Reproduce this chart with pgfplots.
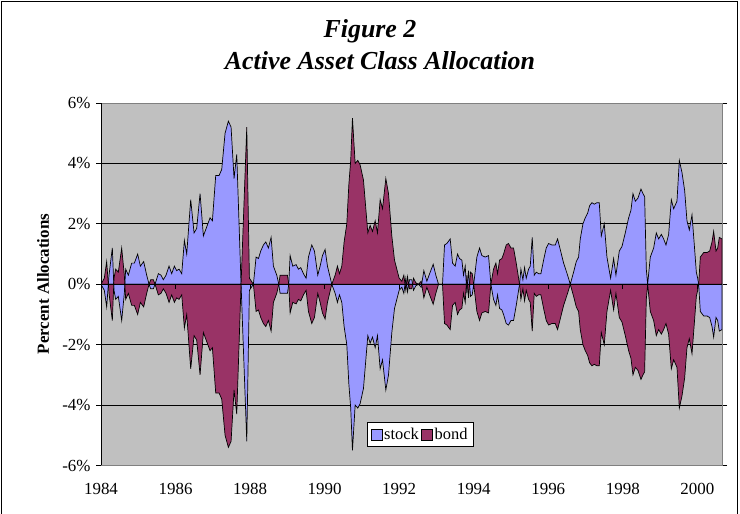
\documentclass[border=0pt]{standalone}
\usepackage{fontspec}
\setmainfont{Liberation Serif}
\usepackage{pgfplots}
\pgfplotsset{compat=1.18}
\usepackage{pgfplotstable}
\definecolor{stockc}{HTML}{9999FF}
\definecolor{bondc}{HTML}{993366}
\definecolor{bgc}{HTML}{C0C0C0}
\definecolor{framec}{HTML}{808080}

\pgfplotstableread{
x stock bond
1984.000 0.00 0.00
1984.089 -0.20 0.20
1984.152 -0.75 0.75
1984.215 0.30 -0.30
1984.304 1.20 -1.20
1984.349 -0.20 0.20
1984.394 -0.50 0.50
1984.465 -0.40 0.40
1984.555 -1.20 1.20
1984.626 -0.30 0.30
1984.662 0.50 -0.50
1984.734 0.30 -0.30
1984.823 0.70 -0.70
1984.895 0.70 -0.70
1984.984 1.00 -1.00
1985.056 0.60 -0.60
1985.145 0.75 -0.75
1985.226 0.30 -0.30
1985.289 0.00 0.00
1985.333 -0.15 0.15
1985.405 -0.15 0.15
1985.450 0.00 0.00
1985.539 0.35 -0.35
1985.611 0.30 -0.30
1985.673 0.15 -0.15
1985.745 0.30 -0.30
1985.826 0.60 -0.60
1985.897 0.35 -0.35
1985.969 0.60 -0.60
1986.031 0.45 -0.45
1986.094 0.50 -0.50
1986.166 0.35 -0.35
1986.237 1.45 -1.45
1986.300 1.00 -1.00
1986.407 2.80 -2.80
1986.497 1.70 -1.70
1986.568 1.85 -1.85
1986.658 3.00 -3.00
1986.747 1.60 -1.60
1986.837 1.90 -1.90
1986.926 2.20 -2.20
1986.989 2.10 -2.10
1987.078 3.60 -3.60
1987.168 3.60 -3.60
1987.239 3.80 -3.80
1987.329 5.00 -5.00
1987.418 5.40 -5.40
1987.490 5.20 -5.20
1987.570 3.50 -3.50
1987.642 4.30 -4.30
1987.758 0.00 0.00
1987.911 -5.20 5.20
1987.982 -0.20 0.20
1988.089 0.00 0.00
1988.161 0.90 -0.90
1988.224 0.85 -0.85
1988.286 1.10 -1.10
1988.358 1.30 -1.30
1988.421 1.40 -1.40
1988.492 1.20 -1.20
1988.564 1.55 -1.55
1988.626 0.60 -0.60
1988.716 0.30 -0.30
1988.770 0.00 0.00
1988.805 -0.30 0.30
1989.002 -0.30 0.30
1989.038 0.00 0.00
1989.074 0.95 -0.95
1989.145 0.60 -0.60
1989.235 0.65 -0.65
1989.298 0.50 -0.50
1989.360 0.55 -0.55
1989.432 0.35 -0.35
1989.503 0.20 -0.20
1989.566 0.90 -0.90
1989.655 1.30 -1.30
1989.727 1.10 -1.10
1989.816 0.30 -0.30
1989.879 0.60 -0.60
1989.942 0.95 -0.95
1990.013 1.15 -1.15
1990.076 0.60 -0.60
1990.192 0.00 0.00
1990.282 -0.30 0.30
1990.344 -0.60 0.60
1990.398 -0.35 0.35
1990.461 -0.60 0.60
1990.523 -1.40 1.40
1990.595 -2.00 2.00
1990.650 -3.30 3.30
1990.700 -4.10 4.10
1990.747 -5.50 5.50
1990.819 -4.00 4.00
1990.890 -4.10 4.10
1990.953 -3.95 3.95
1991.042 -3.45 3.45
1991.159 -1.70 1.70
1991.221 -1.95 1.95
1991.284 -1.75 1.75
1991.356 -2.10 2.10
1991.418 -1.70 1.70
1991.490 -2.80 2.80
1991.553 -2.50 2.50
1991.642 -3.50 3.50
1991.714 -3.00 3.00
1991.803 -1.60 1.60
1991.875 -0.80 0.80
1991.937 -0.50 0.50
1992.000 -0.20 0.20
1992.072 -0.10 0.10
1992.125 -0.30 0.30
1992.179 0.20 -0.20
1992.224 -0.25 0.25
1992.277 0.15 -0.15
1992.340 0.15 -0.15
1992.385 -0.20 0.20
1992.447 -0.05 0.05
1992.519 0.00 0.00
1992.591 -0.10 0.10
1992.662 0.45 -0.45
1992.743 0.10 -0.10
1992.832 0.40 -0.40
1992.913 0.66 -0.66
1992.984 0.30 -0.30
1993.056 0.00 0.00
1993.163 0.00 0.00
1993.217 1.30 -1.30
1993.280 1.35 -1.35
1993.369 1.50 -1.50
1993.432 0.70 -0.70
1993.503 0.60 -0.60
1993.566 1.00 -1.00
1993.620 0.85 -0.85
1993.682 0.80 -0.80
1993.727 0.30 -0.30
1993.772 0.60 -0.60
1993.817 -0.30 0.30
1993.861 0.45 -0.45
1993.915 -0.40 0.40
1993.960 -0.35 0.35
1994.000 0.00 0.00
1994.085 0.90 -0.90
1994.157 1.20 -1.20
1994.219 0.95 -0.95
1994.309 0.90 -0.90
1994.398 0.95 -0.95
1994.461 0.00 0.00
1994.532 -0.50 0.50
1994.595 -0.70 0.70
1994.640 -0.35 0.35
1994.694 -0.80 0.80
1994.756 -0.85 0.85
1994.801 -1.00 1.00
1994.872 -1.30 1.30
1994.935 -1.35 1.35
1994.998 -1.20 1.20
1995.069 -1.20 1.20
1995.141 -0.70 0.70
1995.230 0.00 0.00
1995.266 0.50 -0.50
1995.320 0.15 -0.15
1995.365 0.55 -0.55
1995.409 0.20 -0.20
1995.472 0.50 -0.50
1995.517 0.60 -0.60
1995.570 1.55 -1.55
1995.624 0.30 -0.30
1995.678 0.40 -0.40
1995.740 0.35 -0.35
1995.803 0.35 -0.35
1995.875 0.80 -0.80
1995.946 1.20 -1.20
1996.009 1.35 -1.35
1996.098 1.30 -1.30
1996.188 1.30 -1.30
1996.250 1.50 -1.50
1996.322 1.15 -1.15
1996.412 0.70 -0.70
1996.519 0.30 -0.30
1996.591 0.00 0.00
1996.680 0.40 -0.40
1996.752 0.75 -0.75
1996.814 0.90 -0.90
1996.859 1.50 -1.50
1996.931 2.00 -2.00
1996.993 2.20 -2.20
1997.056 2.35 -2.35
1997.110 2.60 -2.60
1997.172 2.70 -2.70
1997.235 2.65 -2.65
1997.307 2.70 -2.70
1997.369 2.70 -2.70
1997.423 1.60 -1.60
1997.503 2.00 -2.00
1997.575 0.90 -0.90
1997.673 0.20 -0.20
1997.754 0.85 -0.85
1997.816 0.30 -0.30
1997.906 1.10 -1.10
1997.978 1.25 -1.25
1998.067 1.70 -1.70
1998.157 2.20 -2.20
1998.219 2.45 -2.45
1998.273 3.00 -3.00
1998.336 2.75 -2.75
1998.407 2.85 -2.85
1998.488 3.15 -3.15
1998.541 3.00 -3.00
1998.586 2.90 -2.90
1998.631 0.50 -0.50
1998.667 0.00 0.00
1998.738 0.90 -0.90
1998.828 1.20 -1.20
1998.899 1.70 -1.70
1998.962 1.50 -1.50
1999.034 1.65 -1.65
1999.096 1.50 -1.50
1999.159 1.30 -1.30
1999.230 1.65 -1.65
1999.302 2.80 -2.80
1999.365 2.50 -2.50
1999.454 2.75 -2.75
1999.517 4.10 -4.10
1999.588 3.70 -3.70
1999.660 3.10 -3.10
1999.722 2.10 -2.10
1999.785 1.80 -1.80
1999.857 2.30 -2.30
1999.919 1.30 -1.30
1999.973 0.40 -0.40
2000.009 0.20 -0.20
2000.036 0.00 0.00
2000.080 -0.90 0.90
2000.170 -1.05 1.05
2000.260 -1.05 1.05
2000.331 -1.10 1.10
2000.394 -1.40 1.40
2000.438 -1.75 1.75
2000.501 -1.10 1.10
2000.546 -1.20 1.20
2000.590 -1.55 1.55
2000.662 -1.50 1.50
}\alloc

\begin{document}
\begin{tikzpicture}
\path[use as bounding box] (0,0) rectangle (740bp,514bp);
\draw[black, line width=1bp] (1.5bp,-2bp) -- (1.5bp,512.5bp) -- (737.5bp,512.5bp) -- (737.5bp,-2bp);
\node[font=\fontsize{26}{30}\selectfont\bfseries\itshape, anchor=base] at (370bp,476bp) {Figure 2};
\node[font=\fontsize{26}{30}\selectfont\bfseries\itshape, anchor=base] at (380bp,444bp) {Active Asset Class Allocation};
\node[font=\fontsize{17}{20}\selectfont\bfseries, rotate=90] at (43bp,230bp) {Percent Allocations};
\begin{axis}[
  at={(101bp,48.5bp)}, anchor=south west,
  scale only axis, width=621bp, height=362.5bp,
  xmin=1984, xmax=2000.662, ymin=-6, ymax=6,
  axis background/.style={fill=bgc},
  axis line style={draw=framec, line width=1bp},
  ytick={-6,-4,...,6},
  yticklabels={-6\%,-4\%,-2\%,0\%,2\%,4\%,6\%},
  xtick={1984,1986,...,2000},
  xticklabels={1984,1986,1988,1990,1992,1994,1996,1998,2000},
  xtick style={draw=none},
  ytick style={black, line width=0.8bp},
  tick align=outside, major tick length=5bp,
  ymajorgrids, major grid style={black, line width=0.8bp},
  tick label style={font=\fontsize{17}{20}\selectfont},
  xticklabel style={yshift=-9bp},
  yticklabel style={xshift=-2bp},
  legend style={at={(0.5137,0.085)}, anchor=center, legend columns=2,
    draw=black, fill=white, line width=0.8bp, font=\fontsize{16.5}{19}\selectfont,
    inner sep=3.5bp},
  legend image code/.code={\draw[#1, line width=0.7bp] (0bp,-5.5bp) rectangle (11bp,5.5bp);},
  no markers,
]
\addplot[fill=stockc, draw=black, line width=0.7bp] table[x=x, y=stock] {\alloc} \closedcycle;
\addlegendentry{stock\hspace{6bp}}
\addplot[fill=bondc, draw=black, line width=0.7bp] table[x=x, y=bond] {\alloc} \closedcycle;
\addlegendentry{bond}
\draw[black, line width=1bp] (axis cs:1984,0) -- (axis cs:2000.662,0);
\pgfplotsinvokeforeach{1986,1988,...,2000}{
  \draw[black, line width=0.8bp] (axis cs:#1,0) -- ([yshift=-5bp]axis cs:#1,0);
}
\draw[black, line width=1bp] (rel axis cs:0,0) -- (rel axis cs:0,1);
\end{axis}
\end{tikzpicture}
\end{document}
